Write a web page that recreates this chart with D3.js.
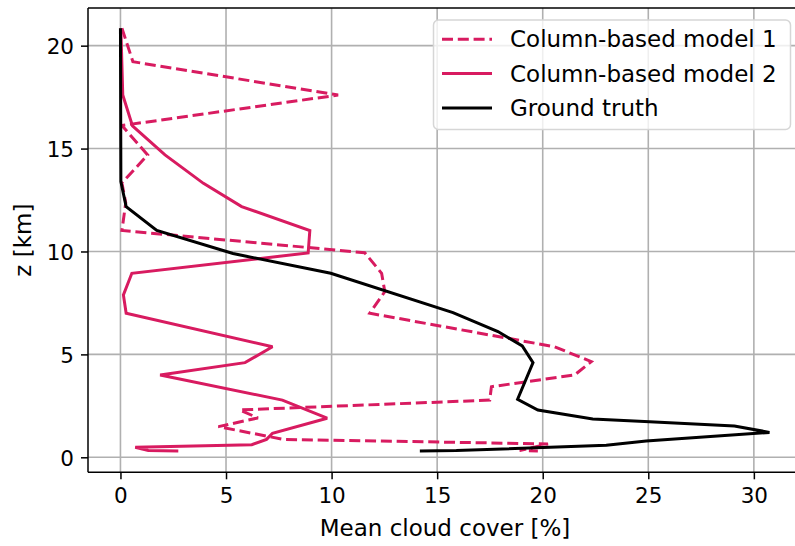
<!DOCTYPE html>
<html>
<head>
<meta charset="utf-8">
<script src="https://cdn.jsdelivr.net/npm/d3@7"></script>
<style>
  html, body { margin: 0; padding: 0; background: #fff; }
  svg { display: block; font-family: "DejaVu Sans", sans-serif; }
</style>
</head>
<body>
<svg id="chart" width="795" height="546"></svg>
<script>
// ---- Data ----
const xTicks = [0, 5, 10, 15, 20, 25, 30];
const yTicks = [0, 5, 10, 15, 20];

const seriesNames = ["Column-based model 1", "Column-based model 2", "Ground truth"];

const model1Z = [20.85, 19.22, 17.60, 16.12, 14.69, 13.33, 12.36, 11.02, 9.94, 8.94, 8.05, 7.00, 5.37, 4.65, 4.00, 3.43, 2.78, 2.30, 1.91, 1.49, 0.87, 0.65, 0.33, 0.31];
const model1X = [0.07, 0.59, 10.31, 0.07, 1.29, 0.07, 0.25, 0.07, 11.57, 12.37, 12.52, 11.81, 20.56, 22.30, 21.51, 17.57, 17.49, 5.66, 6.51, 4.64, 7.71, 20.25, 18.91, 19.77];

const model2Z = [20.85, 17.60, 16.10, 14.69, 13.31, 12.18, 11.02, 9.93, 8.94, 7.89, 7.00, 5.37, 4.60, 4.00, 2.78, 1.90, 1.17, 0.87, 0.61, 0.49, 0.33, 0.31];
const model2X = [0.02, 0.11, 0.57, 2.11, 3.93, 5.74, 8.97, 8.89, 0.54, 0.14, 0.27, 7.20, 5.90, 1.88, 7.67, 9.79, 7.20, 6.92, 6.22, 0.70, 1.32, 2.74];

const truthZ = [20.85, 13.39, 12.18, 11.02, 9.90, 8.94, 7.03, 6.11, 5.41, 4.60, 2.82, 2.30, 1.86, 1.73, 1.52, 1.21, 0.79, 0.58, 0.33, 0.31];
const truthX = [0, 0.02, 0.27, 1.72, 5.33, 9.96, 15.75, 17.88, 19.03, 19.54, 18.81, 19.77, 22.37, 25.06, 29.08, 30.74, 24.90, 23.01, 15.91, 14.18];

// ---- Layout ----
const svg = d3.select("#chart");
const plot = { left: 88, right: 802, top: 8, bottom: 472.3 };
const PINK = "#d81b60";

const x = d3.scaleLinear().domain([-1.537, 32.28]).range([plot.left, plot.right]);
const y = d3.scaleLinear().domain([-0.729, 21.83]).range([plot.bottom, plot.top]);

svg.append("defs").append("clipPath").attr("id", "clip")
  .append("rect").attr("x", plot.left).attr("y", plot.top)
  .attr("width", plot.right - plot.left).attr("height", plot.bottom - plot.top);

// grid
const grid = svg.append("g");
grid.selectAll("line.gx").data(xTicks).join("line")
  .attr("x1", d => x(d)).attr("x2", d => x(d))
  .attr("y1", plot.top).attr("y2", plot.bottom)
  .attr("stroke", "#b0b0b0").attr("stroke-width", 1.6);
grid.selectAll("line.gy").data(yTicks).join("line")
  .attr("y1", d => y(d)).attr("y2", d => y(d))
  .attr("x1", plot.left).attr("x2", plot.right)
  .attr("stroke", "#b0b0b0").attr("stroke-width", 1.6);

// lines
const series = [
  { name: seriesNames[0], z: model1Z, v: model1X, color: PINK, dash: "11,4.8" },
  { name: seriesNames[1], z: model2Z, v: model2X, color: PINK, dash: null },
  { name: seriesNames[2], z: truthZ, v: truthX, color: "#000", dash: null }
];
const line = d3.line().x(d => x(d[0])).y(d => y(d[1]));
const lines = svg.append("g").attr("clip-path", "url(#clip)");
series.forEach(s => {
  const pts = s.v.map((v, i) => [v, s.z[i]]);
  lines.append("path").datum(pts)
    .attr("d", line).attr("fill", "none")
    .attr("stroke", s.color).attr("stroke-width", 3)
    .attr("stroke-linejoin", "miter").attr("stroke-miterlimit", 2)
    .attr("stroke-dasharray", s.dash);
});

// axes
const xAxis = d3.axisBottom(x).tickValues(xTicks).tickSize(7).tickPadding(8).tickFormat(d3.format("d"));
const yAxis = d3.axisLeft(y).tickValues(yTicks).tickSize(7).tickPadding(7).tickFormat(d3.format("d"));
const gx = svg.append("g").attr("transform", `translate(0,${plot.bottom})`).call(xAxis);
const gy = svg.append("g").attr("transform", `translate(${plot.left},0)`).call(yAxis);
[gx, gy].forEach(g => {
  g.select(".domain").remove();
  g.selectAll(".tick line").attr("stroke", "#000").attr("stroke-width", 1.5);
  g.selectAll(".tick text").attr("fill", "#000").attr("font-size", 21.5)
    .attr("font-family", "DejaVu Sans");
});
gy.selectAll(".tick text").attr("dy", "0.36em");
gx.selectAll(".tick text").attr("dy", "0.75em");

// spines (right spine cut off by image edge)
const sp = svg.append("g").attr("stroke", "#000").attr("stroke-width", 1.5);
sp.append("line").attr("x1", plot.left).attr("x2", plot.right).attr("y1", plot.top).attr("y2", plot.top);
sp.append("line").attr("x1", plot.left).attr("x2", plot.right).attr("y1", plot.bottom).attr("y2", plot.bottom);
sp.append("line").attr("x1", plot.left).attr("x2", plot.left).attr("y1", plot.top).attr("y2", plot.bottom);
sp.append("line").attr("x1", plot.right).attr("x2", plot.right).attr("y1", plot.top).attr("y2", plot.bottom);

// axis labels
svg.append("text").attr("x", (plot.left + plot.right) / 2).attr("y", 536)
  .attr("text-anchor", "middle").attr("font-size", 23).text("Mean cloud cover [%]");
svg.append("text").attr("transform", `translate(30.5,${(plot.top + plot.bottom) / 2}) rotate(-90)`)
  .attr("text-anchor", "middle").attr("font-size", 23).text("z [km]");

// legend
const lg = svg.append("g");
lg.append("rect").attr("x", 433.5).attr("y", 20).attr("width", 357).attr("height", 109.5)
  .attr("rx", 5).attr("fill", "#fff").attr("fill-opacity", 0.8)
  .attr("stroke", "#d6d6d6").attr("stroke-width", 1.5);
const rows = [39.3, 73.5, 108];
series.forEach((s, i) => {
  lg.append("line").attr("x1", 442).attr("x2", 492).attr("y1", rows[i]).attr("y2", rows[i])
    .attr("stroke", s.color).attr("stroke-width", 3).attr("stroke-dasharray", s.dash);
  lg.append("text").attr("x", 510).attr("y", rows[i] + 8).attr("font-size", 23)
    .attr("fill", "#000").text(s.name);
});
</script>
</body>
</html>
